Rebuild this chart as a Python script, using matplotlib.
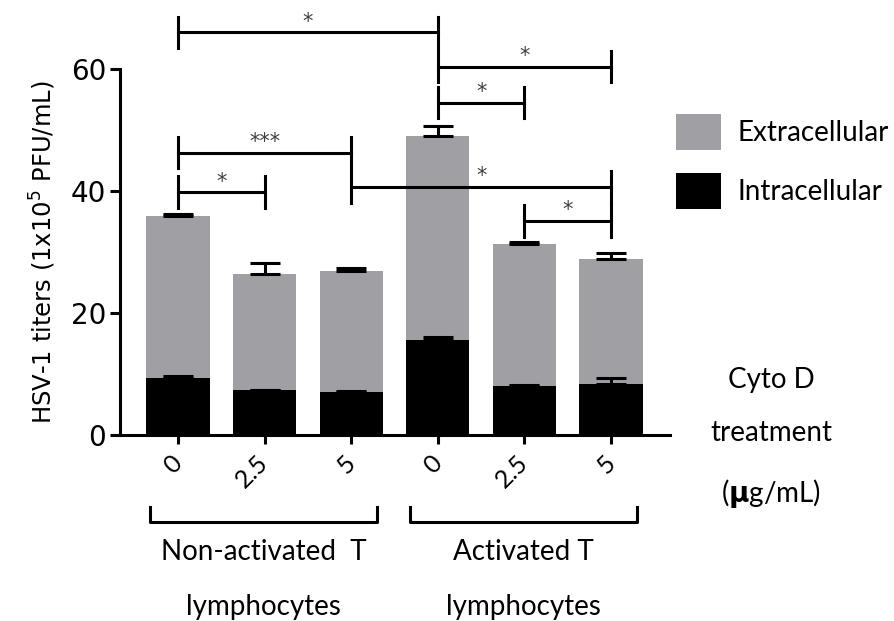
import numpy as np
import matplotlib
matplotlib.use('Agg')
import matplotlib.pyplot as plt
from matplotlib.patches import Patch

# data (units: 1x10^5 PFU/mL)
doses = ['0', '2.5', '5', '0', '2.5', '5']
intracellular = [9.4, 7.3, 7.05, 15.6, 8.1, 8.4]
intra_err = [0.3, 0.15, 0.15, 0.4, 0.1, 0.9]
extracellular = [26.5, 19.1, 19.85, 33.4, 23.2, 20.5]
total_err = [0.3, 1.8, 0.4, 1.6, 0.4, 1.0]

# significance brackets: (bar a, bar b, height, label)
sig_pairs = [(0, 3, 66.0, '*'), (3, 5, 60.4, '*'), (3, 4, 54.5, '*'),
             (0, 2, 46.3, '***'), (0, 1, 39.8, '*'), (2, 5, 40.7, '*'),
             (4, 5, 35.1, '*')]

group_top = ['Non-activated  T', 'Activated T']
group_bottom = ['lymphocytes', 'lymphocytes']

grey = '#a0a0a4'
lw = 2.2
txt_font = 'Lato'

fig = plt.figure(figsize=(8.94, 6.21), dpi=100)
ax = fig.add_axes([120/894, 1 - 435/621, 550/894, 366/621])

x = np.arange(len(doses))
width = 0.73
intra = np.array(intracellular)
extra = np.array(extracellular)
total = intra + extra

ax.bar(x, intra, width, color='black', zorder=2)
ax.bar(x, extra, width, bottom=intra, color=grey, zorder=2)
ax.errorbar(x, total, yerr=[np.zeros(len(x)), total_err], fmt='none',
            ecolor='black', elinewidth=lw, capsize=11, capthick=lw, zorder=3)
ax.errorbar(x, intra, yerr=[np.zeros(len(x)), intra_err], fmt='none',
            ecolor='black', elinewidth=lw, capsize=11, capthick=lw, zorder=3)

ax.set_xlim(-0.67, 5.68)
ax.set_ylim(0, 60)
ax.set_yticks([0, 20, 40, 60])
ax.set_xticks(x)
ax.set_xticklabels(doses, rotation=45, ha='right', va='center',
                   rotation_mode='anchor', fontsize=18, family=txt_font)
ax.tick_params(axis='y', length=7, width=lw, labelsize=20, pad=3)
ax.tick_params(axis='x', length=6.5, width=lw, pad=11)
for s in ['top', 'right']:
    ax.spines[s].set_visible(False)
for s in ['left', 'bottom']:
    ax.spines[s].set_linewidth(lw)

ax.set_ylabel(r'HSV-1 titers (1x10$^{5}$ PFU/mL)', fontsize=17.5, labelpad=9)

# significance brackets
h = 2.6
for a, b, y, lab in sig_pairs:
    ax.plot([a, b], [y, y], color='black', lw=lw, clip_on=False, zorder=4)
    ax.plot([a, a], [y - h, y + h], color='black', lw=lw, clip_on=False, zorder=4)
    ax.plot([b, b], [y - h, y + h], color='black', lw=lw, clip_on=False, zorder=4)
    ax.text((a + b) / 2, y + 0.1, lab, ha='center', va='bottom', fontsize=15,
            color='#404040')

# group brackets under the axis
tr = ax.get_xaxis_transform()
for k in range(len(group_top)):
    left = x[3 * k] - 0.32
    right = x[3 * k + 2] + 0.3
    ax.plot([left, left, right, right], [-0.197, -0.238, -0.238, -0.197],
            color='black', lw=lw, transform=tr, clip_on=False)
    ax.text((left + right) / 2, -0.32, group_top[k], transform=tr,
            ha='center', va='center', fontsize=20, family=txt_font)
    ax.text((left + right) / 2, -0.47, group_bottom[k], transform=tr,
            ha='center', va='center', fontsize=20, family=txt_font)

# treatment label on the right
fig.text(771/894, 1 - 380/621, 'Cyto D', ha='center', va='center',
         fontsize=20, family=txt_font)
fig.text(771/894, 1 - 433/621, 'treatment', ha='center', va='center',
         fontsize=20, family=txt_font)
fig.text(771/894, 1 - 493/621, r'($\mathbf{\mu}$g/mL)', ha='center', va='center',
         fontsize=20, family=txt_font)

handles = [Patch(facecolor=grey), Patch(facecolor='black')]
fig.legend(handles, ['Extracellular', 'Intracellular'], loc='upper left',
           bbox_to_anchor=(676/894, 1 - 114/621), frameon=False,
           prop={'family': txt_font, 'size': 20}, handlelength=1.62,
           handleheight=1.62, labelspacing=0.83, handletextpad=0.6,
           borderpad=0, borderaxespad=0)

fig.savefig('out.png', dpi=100)
